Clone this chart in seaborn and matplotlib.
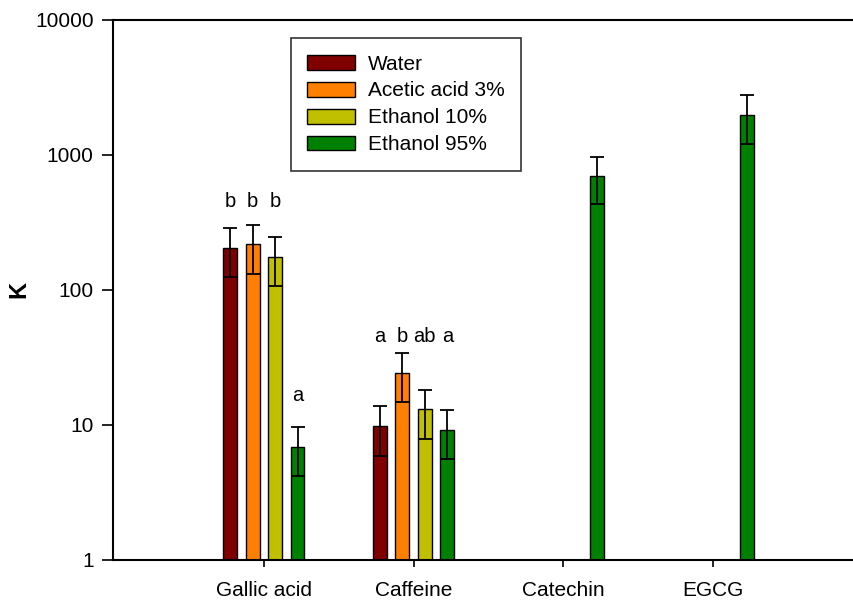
import pandas as pd
import matplotlib
matplotlib.use("Agg")
import matplotlib.pyplot as plt
import seaborn as sns

sns.set_style("ticks")
plt.rcParams["font.family"] = ["Liberation Sans", "DejaVu Sans"]
plt.rcParams["text.color"] = "black"
plt.rcParams["axes.labelcolor"] = "black"
plt.rcParams["xtick.color"] = "black"
plt.rcParams["ytick.color"] = "black"

compounds = ["Gallic acid", "Caffeine", "Catechin", "EGCG"]
solvents = ["Water", "Acetic acid 3%", "Ethanol 10%", "Ethanol 95%"]
colors = ["#800000", "#FF8000", "#C0C000", "#008000"]

# K values per compound, one per solvent (None = not measured)
k_gallic = [205, 217, 176, 6.9]
k_caffeine = [9.8, 24.3, 13.0, 9.2]
k_catechin = [None, None, None, 694]
k_egcg = [None, None, None, 1980]

err_gallic = [80, 86, 70, 2.7]
err_caffeine = [3.9, 9.6, 5.1, 3.6]
err_catechin = [None, None, None, 265]
err_egcg = [None, None, None, 780]

letters_gallic = ["b", "b", "b", "a"]
letters_caffeine = ["a", "b", "ab", "a"]
# baseline heights of the significance letters
letter_y_gallic = [412, 412, 412, 15.1]
letter_y_caffeine = [40.9, 40.9, 40.9, 40.9]

rows = []
for comp, ks, es in zip(compounds,
                        [k_gallic, k_caffeine, k_catechin, k_egcg],
                        [err_gallic, err_caffeine, err_catechin, err_egcg]):
    for solv, k, e in zip(solvents, ks, es):
        if k is not None:
            rows.append({"compound": comp, "solvent": solv, "K": k, "err": e})
df = pd.DataFrame(rows)

fig = plt.figure(figsize=(8.54, 6.02), dpi=100)
ax = fig.add_axes([0.1323, 0.0698, 0.8677, 0.8978])

sns.barplot(data=df, x="compound", y="K", hue="solvent", order=compounds,
            hue_order=solvents, palette=colors, saturation=1, width=0.6,
            gap=0.38, edgecolor="black", linewidth=1.0, errorbar=None, ax=ax)
ax.set_yscale("log")

# error bars taken from each bar's own position and height
err_lookup = {(r.compound, r.solvent): r.err for r in df.itertuples()}
for solv, cont in zip(solvents, ax.containers):
    for bar in cont:
        h = bar.get_height()
        if not h or h != h:
            continue
        xc = bar.get_x() + bar.get_width() / 2
        comp = compounds[int(round(xc))]
        e = err_lookup[(comp, solv)]
        ax.errorbar(xc, h, yerr=e, fmt="none", ecolor="black",
                    elinewidth=1.3, capsize=5, capthick=1.3, zorder=5)

for comp, labs, ys in [("Gallic acid", letters_gallic, letter_y_gallic),
                       ("Caffeine", letters_caffeine, letter_y_caffeine)]:
    for solv, cont in zip(solvents, ax.containers):
        for bar in cont:
            xc = bar.get_x() + bar.get_width() / 2
            if compounds[int(round(xc))] == comp:
                i = solvents.index(solv)
                ax.text(xc, ys[i], labs[i], ha="center", va="baseline",
                        fontsize=14.5, color="black")

ax.set_ylim(1, 10000)
ax.set_xlim(-1.007, 3.94)
ax.set_yticks([1, 10, 100, 1000, 10000])
ax.set_yticklabels(["1", "10", "100", "1000", "10000"])
ax.minorticks_off()
ax.tick_params(axis="y", which="major", length=8, width=1.2, labelsize=15,
               direction="out", pad=6, colors="black")
ax.tick_params(axis="x", length=5, width=1.2, labelsize=15, pad=10,
               colors="black")

ax.set_xlabel("")
ax.set_ylabel("K", fontsize=17, fontweight="bold", labelpad=3, color="black")

for side in ["left", "bottom", "top"]:
    ax.spines[side].set_visible(True)
    ax.spines[side].set_linewidth(1.5)
    ax.spines[side].set_color("black")
ax.spines["right"].set_visible(False)

leg = ax.legend(loc="upper left", bbox_to_anchor=(0.240, 0.966),
                borderaxespad=0, fontsize=15, frameon=True, fancybox=False,
                edgecolor="black", handlelength=2.3, handleheight=0.72,
                labelspacing=0.38, borderpad=0.8, handletextpad=0.6)
leg.get_frame().set_linewidth(1.2)
for t in leg.get_texts():
    t.set_color("black")

fig.savefig("out.png", dpi=100)
